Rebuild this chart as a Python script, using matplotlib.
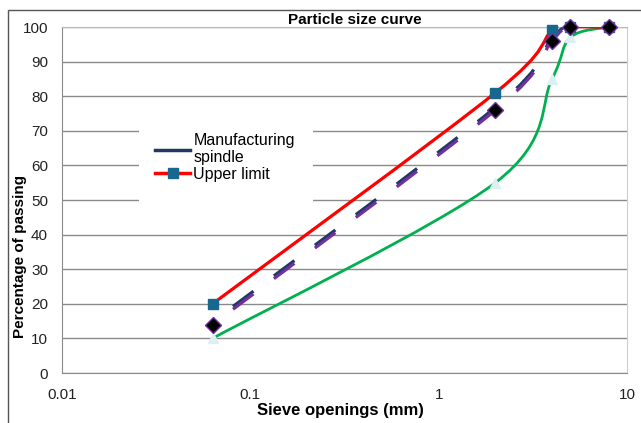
import matplotlib
matplotlib.use("Agg")
import matplotlib.pyplot as plt
import numpy as np
from matplotlib.path import Path
from matplotlib.patches import PathPatch, Rectangle
from matplotlib.lines import Line2D
from matplotlib.ticker import FixedLocator, FixedFormatter

plt.rcParams['font.family'] = ['Liberation Sans', 'DejaVu Sans']

# sieve openings (mm) and passing (%)
sieve = [0.063, 2, 4, 5, 8]
upper_limit = [20, 81, 99, 100, 100]
lower_limit = [10, 55, 85, 97, 100]
spindle = [14.8, 76.8, 96.7, 100, 100]
sample = [14, 76, 96, 100, 100]

xticks = [0.01, 0.1, 1, 10]
xtick_labels = ["0.01", "0.1", "1", "10"]
yticks = list(range(0, 101, 10))


def smooth_path(ax, xs, ys):
    # excel-like smoothed line: cubic bezier through the points, built in screen space
    pts = ax.transData.transform(np.column_stack([xs, ys]))
    n = len(pts)
    verts = [pts[0]]
    codes = [Path.MOVETO]
    for i in range(n - 1):
        p0 = pts[i - 1] if i > 0 else pts[i]
        p1 = pts[i]
        p2 = pts[i + 1]
        p3 = pts[i + 2] if i + 2 < n else pts[i + 1]
        c1 = p1 + (p2 - p0) / 6.0
        c2 = p2 - (p3 - p1) / 6.0
        verts += [c1, c2, p2]
        codes += [Path.CURVE4] * 3
    inv = ax.transData.inverted()
    return Path(inv.transform(np.array(verts)), codes)


fig = plt.figure(figsize=(6.41, 4.23), dpi=100)
ax = fig.add_axes([62 / 641, 1 - 373 / 423, 565 / 641, 346 / 423])
ax.set_xscale('log')
ax.set_xlim(0.01, 10)
ax.set_ylim(0, 100)

ax.xaxis.set_major_locator(FixedLocator(xticks))
ax.xaxis.set_major_formatter(FixedFormatter(xtick_labels))
ax.xaxis.set_minor_locator(FixedLocator([]))
ax.set_yticks(yticks)
ax.tick_params(axis='both', length=0, labelsize=11, colors='#222222')
ax.tick_params(axis='y', pad=10)
ax.tick_params(axis='x', pad=11)

ax.grid(axis='y', color='#8a8a8a', linewidth=1)
ax.set_axisbelow(True)
for side in ['left', 'bottom']:
    ax.spines[side].set_color('#8a8a8a')
ax.spines['top'].set_color('#bbbbbb')
ax.spines['right'].set_color('#cccccc')

# lines
navy = '#1f3864'
purple = '#7030a0'
red = '#ff0000'
green = '#00b050'
teal = '#17678f'

ax.add_patch(PathPatch(smooth_path(ax, sieve, lower_limit), fill=False, edgecolor=green, lw=2.0, zorder=3))
ax.add_patch(PathPatch(smooth_path(ax, sieve, spindle), fill=False, edgecolor=navy, lw=2.3,
                       linestyle=(8, (8, 8)), zorder=3))
ax.add_patch(PathPatch(smooth_path(ax, sieve, sample), fill=False, edgecolor=purple, lw=2.3,
                       linestyle=(8, (8, 8)), zorder=4))
ax.add_patch(PathPatch(smooth_path(ax, sieve, upper_limit), fill=False, edgecolor=red, lw=2.3, zorder=5))

# markers
ax.plot(sieve, lower_limit, linestyle='none', marker='^', ms=7, color='#dcf0f4', mec='#dcf0f4',
        zorder=6, clip_on=False)
ax.plot(sieve, sample, linestyle='none', marker='D', ms=8, color='black', mec=purple, mew=1,
        zorder=7, clip_on=False)
ax.plot(sieve, upper_limit, linestyle='none', marker='s', ms=7, color=teal, mec=teal,
        zorder=6, clip_on=False)

# white legend area hiding the gridlines
ax.add_patch(Rectangle(((139 - 62) / 565, (373 - 206) / 346), (313 - 139) / 565, 86 / 346,
                       transform=ax.transAxes, facecolor='white', edgecolor='none', zorder=1))

handles = [Line2D([], [], color=navy, lw=2.5),
           Line2D([], [], color=red, lw=2.5, marker='s', ms=7, mfc=teal, mec=teal)]
leg = ax.legend(handles, ["Manufacturing\nspindle", "Upper limit"], loc='upper left',
                bbox_to_anchor=((139 - 62) / 565, (373 - 117) / 346), fontsize=11.5,
                frameon=False, handlelength=2.2, handletextpad=0.2, labelspacing=0.1,
                borderpad=0.5)
leg.set_zorder(10)

fig.text(355 / 641, 1 - 20 / 423, "Particle size curve", ha='center', va='center',
         fontsize=11, fontweight='bold')
fig.text(340 / 641, 1 - 410 / 423, "Sieve openings (mm)", ha='center', va='center',
         fontsize=12, fontweight='bold')
fig.text(20 / 641, 1 - 257 / 423, "Percentage of passing", ha='center', va='center',
         rotation=90, fontsize=11, fontweight='bold')

# outer chart frame
fig.patches.append(Rectangle((8 / 641, -0.1), 1.2, 1 - 10 / 423 + 0.1, transform=fig.transFigure,
                             fill=False, edgecolor='#555555', lw=1))

fig.savefig("out.png", dpi=100)
